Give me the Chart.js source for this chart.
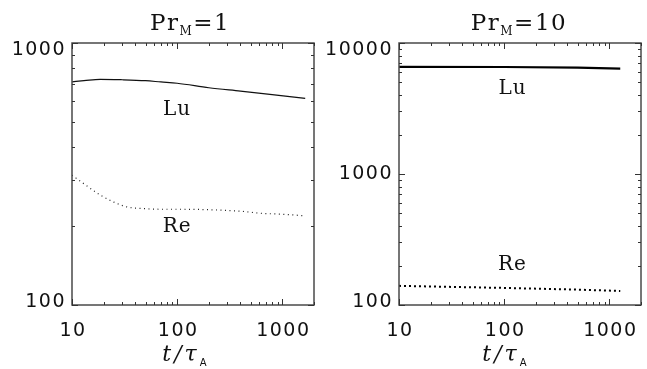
<!DOCTYPE html>
<html>
<head>
<meta charset="utf-8">
<script src="https://cdn.jsdelivr.net/npm/chart.js@4.4.1/dist/chart.umd.min.js"></script>
<style>
  html, body { margin: 0; padding: 0; background: #fff; }
  #wrap { position: relative; width: 647px; height: 369px; }
  canvas { position: absolute; top: 0; }
  #left { left: 0; }
  #right { left: 323px; }
</style>
</head>
<body>
<div id="wrap">
  <canvas id="left" width="323" height="369"></canvas>
  <canvas id="right" width="324" height="369"></canvas>
</div>
<script>
// Pr_M = 1 panel
const timeLu1 = [10, 13, 18.5, 30, 50, 70, 100, 200, 400, 800, 1650];
const lu1 = [711, 718, 727, 724, 718, 710, 702, 675, 655, 635, 615];
const timeRe1 = [10, 13, 18.5, 25, 33, 50, 70, 100, 200, 400, 617, 1000, 1650];
const re1 = [313, 290, 263, 247, 237, 233, 232, 232, 231, 228, 224, 222, 219];

// Pr_M = 10 panel
const timeLu2 = [10, 100, 500, 1270];
const lu2 = [6570, 6560, 6480, 6380];
const timeRe2 = [10, 100, 500, 1270];
const re2 = [140, 135, 131, 128];

const xTickLabels = [10, 100, 1000];
const yTickLabels1 = [100, 1000];
const yTickLabels2 = [100, 1000, 10000];

const toPoints = (xs, ys) => xs.map((x, i) => ({ x: x, y: ys[i] }));

// frame, inward ticks, tick labels and text
const idlAxes = {
    id: 'idlAxes',
    afterDraw(chart, args, opts) {
        const ctx = chart.ctx;
        const a = chart.chartArea;
        const xs = chart.scales.x;
        const ys = chart.scales.y;
        ctx.save();
        ctx.strokeStyle = '#4a4a4a';
        ctx.lineWidth = 1.5;
        ctx.strokeRect(a.left, a.top, a.right - a.left, a.bottom - a.top);

        ctx.lineWidth = 1;
        ctx.strokeStyle = '#333';
        const logTicks = (min, max) => {
            const out = [];
            for (let e = Math.floor(Math.log10(min)); e <= Math.ceil(Math.log10(max)); e++) {
                for (let m = 1; m <= 9; m++) {
                    const v = m * Math.pow(10, e);
                    if (v >= min && v <= max) out.push({ v: v, major: m === 1 });
                }
            }
            return out;
        };
        ctx.beginPath();
        logTicks(xs.min, xs.max).forEach(t => {
            const px = Math.round(xs.getPixelForValue(t.v)) + 0.5;
            const len = t.major ? 6 : 3;
            ctx.moveTo(px, a.bottom); ctx.lineTo(px, a.bottom - len);
            ctx.moveTo(px, a.top); ctx.lineTo(px, a.top + len);
        });
        logTicks(ys.min, ys.max).forEach(t => {
            const py = Math.round(ys.getPixelForValue(t.v)) + 0.5;
            const len = t.major ? 6 : 3;
            ctx.moveTo(a.left, py); ctx.lineTo(a.left + len, py);
            ctx.moveTo(a.right, py); ctx.lineTo(a.right - len, py);
        });
        ctx.stroke();

        ctx.fillStyle = '#111';
        ctx.font = '19px "DejaVu Sans"';
        ctx.letterSpacing = '1.5px';
        ctx.textAlign = 'center';
        ctx.textBaseline = 'middle';
        xTickLabels.forEach(v => {
            ctx.fillText(String(v), xs.getPixelForValue(v) + 1, a.bottom + 26);
        });
        ctx.textAlign = 'right';
        opts.yLabels.forEach(v => {
            let py = ys.getPixelForValue(v);
            if (v === ys.max) py += 7;
            if (v === ys.min) py -= 3;
            ctx.fillText(String(v), a.left - 6, py);
        });

        // curve labels
        ctx.letterSpacing = '1px';
        ctx.font = '20px "DejaVu Serif"';
        ctx.textAlign = 'center';
        opts.curveLabels.forEach(l => {
            ctx.fillText(l.text, xs.getPixelForValue(l.x), ys.getPixelForValue(l.y));
        });

        // title with subscript
        const parts = [
            { t: 'Pr', f: '23px "DejaVu Serif"', dy: 0 },
            { t: 'M', f: '12px "DejaVu Serif"', dy: 5 },
            { t: '=' + opts.prValue, f: '23px "DejaVu Serif"', dy: 0 }
        ];
        ctx.textAlign = 'left';
        ctx.textBaseline = 'alphabetic';
        ctx.letterSpacing = '1.5px';
        let w = 0;
        parts.forEach(p => { ctx.font = p.f; p.w = ctx.measureText(p.t).width; w += p.w; });
        let x0 = opts.titleX - w / 2;
        parts.forEach(p => {
            ctx.font = p.f;
            ctx.fillText(p.t, x0, 30 + p.dy);
            x0 += p.w;
        });

        // x axis title t/tau_A
        const xparts = [
            { t: 't', f: 'italic 22px "DejaVu Serif"', dy: 0 },
            { t: '/', f: 'italic 22px "DejaVu Serif"', dy: 0 },
            { t: '\u03c4', f: 'italic 22px "DejaVu Serif"', dy: 0 },
            { t: 'A', f: '10px "DejaVu Sans"', dy: 5 }
        ];
        ctx.letterSpacing = '3px';
        w = 0;
        xparts.forEach(p => { ctx.font = p.f; p.w = ctx.measureText(p.t).width; w += p.w; });
        x0 = opts.xTitleX - w / 2;
        xparts.forEach(p => {
            ctx.font = p.f;
            ctx.fillText(p.t, x0, 361 + p.dy);
            x0 += p.w;
        });
        ctx.restore();
    }
};

function makeChart(id, datasets, yMin, yMax, padding, opts) {
    return new Chart(document.getElementById(id), {
        type: 'line',
        data: { datasets: datasets },
        options: {
            responsive: false,
            animation: false,
            devicePixelRatio: 1,
            layout: { padding: padding },
            plugins: {
                legend: { display: false },
                tooltip: { enabled: false },
                idlAxes: opts
            },
            scales: {
                x: { type: 'logarithmic', min: 10, max: 2000, display: false },
                y: { type: 'logarithmic', min: yMin, max: yMax, display: false }
            }
        },
        plugins: [idlAxes]
    });
}

makeChart('left', [
    {
        data: toPoints(timeLu1, lu1),
        borderColor: '#111', borderWidth: 1.2, pointRadius: 0,
        cubicInterpolationMode: 'monotone'
    },
    {
        data: toPoints(timeRe1, re1),
        borderColor: '#222', borderWidth: 1.2, borderDash: [1, 3.5], pointRadius: 0,
        cubicInterpolationMode: 'monotone'
    }
], 100, 1000, { left: 72, right: 9, top: 43, bottom: 64 }, {
    yLabels: yTickLabels1,
    prValue: '1',
    titleX: 190,
    xTitleX: 186,
    curveLabels: [{ text: 'Lu', x: 100, y: 555 }, { text: 'Re', x: 100, y: 198 }]
});

makeChart('right', [
    {
        data: toPoints(timeLu2, lu2),
        borderColor: '#000', borderWidth: 2.2, pointRadius: 0
    },
    {
        data: toPoints(timeRe2, re2),
        borderColor: '#000', borderWidth: 2, borderDash: [2, 3], pointRadius: 0
    }
], 100, 10000, { left: 76, right: 6, top: 43, bottom: 64 }, {
    yLabels: yTickLabels2,
    prValue: '10',
    titleX: 196,
    xTitleX: 183,
    curveLabels: [{ text: 'Lu', x: 120, y: 4460 }, { text: 'Re', x: 120, y: 202 }]
});
</script>
</body>
</html>
